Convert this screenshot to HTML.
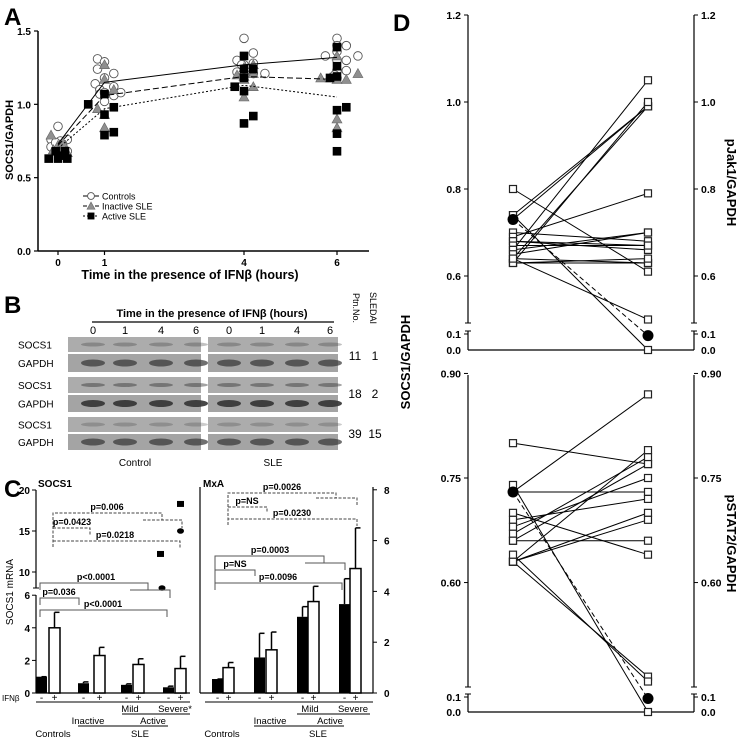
<!DOCTYPE html>
<html><head><meta charset="utf-8"><style>
html,body{margin:0;padding:0;background:#fff}
svg{display:block;font-family:"Liberation Sans",Arial,sans-serif}
</style></head><body>
<svg id="fig" width="746" height="739" viewBox="0 0 746 739" xmlns="http://www.w3.org/2000/svg">
<g id="gA"></g>
<g id="gB"></g>
<g id="gC"></g>
<g id="gD"></g>
</svg>
<script>
// ---------- Panel A data ----------
const aTimes=[0,1,4,6];
const aCtrlMean=[0.73,1.15,1.27,1.32];
const aInacMean=[0.72,1.06,1.19,1.17];
const aActMean=[0.70,0.97,1.13,1.05];
const aCtrlT=[-0.15,-0.15,0,0.05,0.2,0.2,0.1,-0.05,0.8,0.85,0.85,0.9,0.9,1,1,1,1,1.2,1.2,1.2,1.35,3.85,3.85,4,4,4,4.2,4.2,4.2,4.45,3.95,5.75,6,6,6,6,6,6,6.2,6.2,6.2,6.45,5.95];
const aCtrlV=[0.76,0.71,0.85,0.75,0.76,0.68,0.73,0.74,1.14,1.31,1.24,1.10,1.07,1.29,1.18,1.02,1.08,1.21,1.06,1.12,1.08,1.30,1.22,1.45,1.27,1.20,1.35,1.28,1.21,1.21,1.27,1.33,1.45,1.40,1.36,1.30,1.23,1.18,1.40,1.30,1.23,1.33,1.20];
const aInacT=[-0.15,-0.1,0,0.1,0.2,0.05,0.85,1,1,1,1,1.2,4,4,4,4,4.2,4.2,4.2,3.85,5.65,5.85,6,6,6,6,6.2,6.45];
const aInacV=[0.79,0.69,0.72,0.74,0.67,0.67,0.97,1.27,1.17,0.93,0.84,1.10,1.25,1.19,1.17,1.05,1.27,1.21,1.12,1.20,1.18,1.18,1.33,1.17,0.90,0.84,1.17,1.21];
const aActT=[-0.2,0,0.05,0.15,0.2,-0.05,0.65,1,1,1,1.2,1.2,3.8,4,4,4,4,4,4.2,4.2,6,6,6,6,6,6,6.2,5.85];
const aActV=[0.63,0.63,0.65,0.68,0.63,0.68,1.0,1.07,0.93,0.79,0.98,0.81,1.12,1.33,1.24,1.18,1.09,0.87,1.24,0.92,1.39,1.26,1.19,0.96,0.80,0.68,0.98,1.18];
const aYTicks=[0,0.5,1.0,1.5];
const aYTickLabels=["0.0","0.5","1.0","1.5"];
// ---------- Panel C data ----------
const cGroups=["Controls","Inactive","Mild","Severe"];
const cSocsMinus=[1.0,0.6,0.5,0.35];
const cSocsMinusErr=[1.0,0.68,0.56,0.42];
const cSocsPlus=[4.0,2.3,1.75,1.5];
const cSocsPlusErr=[4.95,2.8,2.1,2.25];
const cMxaMinus=[0.55,1.4,3.0,3.5];
const cMxaMinusErr=[0.55,2.35,3.4,4.5];
const cMxaPlus=[1.0,1.7,3.6,4.9];
const cMxaPlusErr=[1.2,2.4,4.2,6.5];
const cSocsTicksLow=[0,2,4,6];
const cSocsTicksHigh=[10,15,20];
const cMxaTicks=[0,2,4,6,8];
const cOutliers=[[3,18.3,'sq'],[3,15,'ci'],[2.6,12.2,'sq']];
// ---------- Panel D data ----------
const dJakLeft=[0.80,0.74,0.73,0.70,0.69,0.68,0.68,0.67,0.66,0.66,0.65,0.64,0.64,0.63,0.63,0.63,0.64,0.74];
const dJakRight=[0.61,0.99,0.99,0.68,0.79,0.67,0.66,0.67,0.70,1.05,0.70,0.99,0.63,1.00,0.63,0.64,0.50,0.0];
const dJakMean=[0.73,0.09];
const dJakTicks=[0.6,0.8,1.0,1.2];
const dJakTickLabels=["0.6","0.8","1.0","1.2"];
const dStatLeft=[0.80,0.73,0.73,0.70,0.69,0.68,0.67,0.66,0.66,0.63,0.63,0.63,0.63,0.64,0.74];
const dStatRight=[0.77,0.87,0.73,0.64,0.72,0.75,0.78,0.66,0.77,0.79,0.70,0.69,0.465,0.458,0.0];
const dStatMean=[0.73,0.09];
const dStatTicks=[0.60,0.75,0.90];
const dStatTickLabels=["0.60","0.75","0.90"];

const NS="http://www.w3.org/2000/svg";
function mk(par,tag,at,txt){const e=document.createElementNS(NS,tag);for(const k in at)e.setAttribute(k,at[k]);if(txt!==undefined)e.textContent=txt;par.appendChild(e);return e;}
function ln(p,x1,y1,x2,y2,w,dash){const e=mk(p,'line',{x1,y1,x2,y2,stroke:'#000','stroke-width':w||1});if(dash)e.setAttribute('stroke-dasharray',dash);return e;}
function tx(p,x,y,s,size,anchor,bold){const e=mk(p,'text',{x,y,'font-size':size,'text-anchor':anchor||'middle'},s);if(bold)e.setAttribute('font-weight','bold');return e;}

// ================= Panel A =================
(function(){
const g=document.getElementById('gA');
const X=t=>58+t*46.5, Y=v=>251-v*(220/1.5);
let e=tx(g,4,25,'A',24,'start',true);

e=ln(g,38,Y(1.5),38,251,1.5);

e=ln(g,38,251,369,251,1.5);

aYTicks.forEach((v,i)=>{ln(g,34,Y(v),38,Y(v),1.2);
 const t=tx(g,31,Y(v)+4,aYTickLabels[i],10,'end',true);
 });
aTimes.forEach(t=>{ln(g,X(t),251,X(t),255,1.2);
 const l=tx(g,X(t),266,String(t),10,'middle',true);
 });
e=tx(g,190,279,'Time in the presence of IFNβ (hours)',12.5,'middle',true);

e=tx(g,0,0,'SOCS1/GAPDH',11,'middle',true);e.setAttribute('transform','translate(13,140) rotate(-90)');

function meanLine(arr,dash,name){const pts=aTimes.map((t,i)=>X(t)+','+Y(arr[i])).join(' ');
 const p=mk(g,'polyline',{points:pts,fill:'none',stroke:'#000','stroke-width':1});if(dash)p.setAttribute('stroke-dasharray',dash);
 }
function marker(par,kind,cx,cy,s){s=s||1;let m;
 if(kind==='ci')m=mk(par,'circle',{cx,cy,r:4.3*s,fill:'#fff',stroke:'#555','stroke-width':0.9});
 else if(kind==='tr')m=mk(par,'polygon',{points:`${cx},${cy-5*s} ${cx-5*s},${cy+4*s} ${cx+5*s},${cy+4*s}`,fill:'#8f8f8f',stroke:'#666','stroke-width':0.6});
 else m=mk(par,'rect',{x:cx-4.3*s,y:cy-4.3*s,width:8.6*s,height:8.6*s,fill:'#000'});
 return m;}
aCtrlT.forEach((t,i)=>{const m=marker(g,'ci',X(t),Y(aCtrlV[i]));});
aInacT.forEach((t,i)=>{const m=marker(g,'tr',X(t),Y(aInacV[i]));});
aActT.forEach((t,i)=>{const m=marker(g,'sq',X(t),Y(aActV[i]));});
meanLine(aCtrlMean,null,'controls-mean-line');
meanLine(aInacMean,'6,3','inactive-sle-mean-line');
meanLine(aActMean,'2,2','active-sle-mean-line');
const leg=mk(g,'g',{});
[['ci','Controls',null],['tr','Inactive SLE','4,2'],['sq','Active SLE','2,2']].forEach((r,i)=>{
 const y=196+i*10;const en=mk(leg,'g',{});
 
 ln(en,83,y,99,y,1,r[2]);marker(en,r[0],91,y,0.8);
 tx(en,102,y+3.5,r[1],9,'start');});
})();

// ================= Panel B =================
(function(){
const g=document.getElementById('gB');
let e=tx(g,4,313,'B',24,'start',true);
e=tx(g,212,317,'Time in the presence of IFNβ (hours)',11,'middle',true);
ln(g,92,322,334,322,1.2);
const lanes=[93,125,161,196,229,262,297,330],ln8=["0","1","4","6","0","1","4","6"];
lanes.forEach((x,i)=>{const t=tx(g,x,334,ln8[i],11);});
const rows=[[337,352,'SOCS1',0.3],[354,372,'GAPDH',0.7],[377,393,'SOCS1',0.45],[395,412,'GAPDH',0.9],[417,432,'SOCS1',0.25],[434,450,'GAPDH',0.7]];
rows.forEach(r=>{[[68,201],[208,338]].forEach((p,pi)=>{
 const s=mk(g,'rect',{x:p[0],y:r[0],width:p[1]-p[0],height:r[1]-r[0],fill:r[2]==='SOCS1'?'#acacac':'#a4a4a4'});
 
 for(let k=0;k<4;k++){const cx=lanes[pi*4+k];mk(g,'ellipse',{cx,cy:(r[0]+r[1])/2,rx:12,ry:r[2]==='SOCS1'?2:3.5,fill:'#333','fill-opacity':r[3]});}
});
 const l=tx(g,18,(r[0]+r[1])/2+4,r[2],10,'start');});
[['11','1',360],['18','2',398],['39','15',438]].forEach(p=>{tx(g,355,p[2],p[0],12,'middle');tx(g,375,p[2],p[1],12,'middle');});
e=tx(g,0,0,'Ptn.No.',9,'middle');e.setAttribute('transform','translate(353,308) rotate(90)');
e=tx(g,0,0,'SLEDAI',9,'middle');e.setAttribute('transform','translate(370,308) rotate(90)');
e=tx(g,135,466,'Control',10);
e=tx(g,273,466,'SLE',10);
})();

// ================= Panel C =================
(function(){
const g=document.getElementById('gC');
let e=tx(g,4,497,'C',24,'start',true);
const Y0=693;
const YS=v=>v<=6?Y0-v*16.3:572-(v-10)*8.2;
const YM=v=>Y0-v*25.4;
const sX=[[36,49],[78,94],[121,133],[163,175]], mX=[[212,223],[254,266],[297,308],[339,350]];
const W=11;
ln(g,36,490,36,588,1.2);ln(g,36,595,36,Y0,1.2);ln(g,33,588,39,588,1);
ln(g,36,Y0,190,Y0,1.2);
cSocsTicksLow.concat(cSocsTicksHigh).forEach(v=>{ln(g,32,YS(v),36,YS(v),1);
 const t=tx(g,30,YS(v)+4,String(v),10,'end',true);});
e=tx(g,38,487,'SOCS1',10,'start',true);
e=tx(g,0,0,'SOCS1 mRNA',10,'middle');e.setAttribute('transform','translate(13,592) rotate(-90)');
ln(g,200,487,200,Y0,1.2);ln(g,200,Y0,373,Y0,1.2);ln(g,373,487,373,Y0,1.2);
cMxaTicks.forEach(v=>{ln(g,373,YM(v),377,YM(v),1);});
e=tx(g,203,487,'MxA',10,'start',true);
cMxaTicks.forEach(v=>{const t=tx(g,384,YM(v)+4,String(v),10,'start',true);});
function bars(xs,minus,minusE,plus,plusE,Yf,nm){
 xs.forEach((p,i)=>{
  let b=mk(g,'rect',{x:p[0],y:Yf(minus[i]),width:W,height:Y0-Yf(minus[i]),fill:'#000'});
  
  ln(g,p[0]+W/2,Yf(minus[i]),p[0]+W/2,Yf(minusE[i]),1.5);ln(g,p[0]+W/2,Yf(minusE[i]),p[0]+W/2+5,Yf(minusE[i]),1.5);
  b=mk(g,'rect',{x:p[1],y:Yf(plus[i]),width:W,height:Y0-Yf(plus[i]),fill:'#fff',stroke:'#000','stroke-width':1.5});
  
  ln(g,p[1]+W/2,Yf(plus[i]),p[1]+W/2,Yf(plusE[i]),1.5);ln(g,p[1]+W/2,Yf(plusE[i]),p[1]+W/2+5,Yf(plusE[i]),1.5);
  tx(g,p[0]+W/2,701,'-',10);tx(g,p[1]+W/2,701,'+',10);
 });}
bars(sX,cSocsMinus,cSocsMinusErr,cSocsPlus,cSocsPlusErr,YS,'socs1');
bars(mX,cMxaMinus,cMxaMinusErr,cMxaPlus,cMxaPlusErr,YM,'mxa');
cOutliers.forEach(o=>{const x=sX[3][1]+W/2-(o[0]<3?20:0),y=YS(o[1]);
 const m=o[2]==='sq'?mk(g,'rect',{x:x-3.5,y:y-3,width:7,height:6,fill:'#000'}):mk(g,'ellipse',{cx:x,cy:y,rx:3.5,ry:2.8,fill:'#000'});
 });
mk(g,'ellipse',{cx:162,cy:588,rx:3.5,ry:2.8,fill:'#000'});
e=tx(g,2,701,'IFNβ',8,'start');
function br(x1,x2,y,d1,d2,dash,label,lx){
 const p=mk(g,'path',{d:`M${x1},${y+d1}V${y}H${x2}V${y+d2}`,fill:'none',stroke:dash?'#444':'#555','stroke-width':1});
 if(dash)p.setAttribute('stroke-dasharray','3,1.5');
 
 if(label){const t=tx(g,lx,y-3,label,9,'middle',true);}}
br(53,162,513,34,7,true,'p=0.006',107);br(143,182,520,0,8,true,null);
br(53,90,528,0,7,true,'p=0.0423',72);
br(53,180,541,0,7,true,'p=0.0218',115);
br(40,148,583,7,7,false,'p<0.0001',96);br(130,170,590,0,8,false,null);
br(40,79,598,7,7,false,'p=0.036',59);
br(40,167,610,7,7,false,'p<0.0001',103);
br(228,336,493,32,5,true,'p=0.0026',282);br(316,357,498,0,7,true,null);
br(228,267,507,0,6,true,'p=NS',247);
br(228,357,519,6,7,true,'p=0.0230',292);
br(215,324,556,30,7,false,'p=0.0003',270);br(305,345,563,0,7,false,null);
br(215,255,570,0,6,false,'p=NS',235);
br(215,342,583,7,7,false,'p=0.0096',278);
ln(g,36,702,190,702,1);ln(g,205,702,373,702,1);
ln(g,122,714,190,714,1);ln(g,78,726,168,726,1);
ln(g,297,714,370,714,1);ln(g,254,726,344,726,1);
[[130,712,'Mild'],[175,712,'Severe*'],[88,724,'Inactive'],[153,724,'Active'],[53,737,'Controls'],[140,737,'SLE'],
 [310,712,'Mild'],[353,712,'Severe'],[270,724,'Inactive'],[330,724,'Active'],[222,737,'Controls'],[318,737,'SLE']].forEach(l=>{
 const t=tx(g,l[0],l[1],l[2],9.5);});
})();

// ================= Panel D =================
(function(){
const g=document.getElementById('gD');
let e=tx(g,393,31,'D',24,'start',true);
const XL=468,XR=694,P1=513,P2=648;
function panel(vAt,vTop,yTop,pxPerUnit,breakY,lowY1,lowY0,ticks,labels,left,right,mean,title,nm){
 const Y=v=>v<=0.1?lowY0-(lowY0-lowY1)*v/0.1:vAt-(v-vTop)*pxPerUnit;
 [XL,XR].forEach((x,si)=>{ln(g,x,yTop,x,breakY,1.2);ln(g,x,lowY1-3,x,lowY0,1.2);
  ln(g,x-3,breakY,x+3,breakY,1);ln(g,x-3,lowY1-3,x+3,lowY1-3,1);
  const d=si?1:-1;
  ticks.forEach((v,i)=>{ln(g,x,Y(v),x+4*d,Y(v),1);
   const t=tx(g,x+7*d,Y(v)+4,labels[i],10.5,si?'start':'end',true);});
  ln(g,x,lowY1,x+4*d,lowY1,1);tx(g,x+7*d,lowY1+4,'0.1',10.5,si?'start':'end',true);
  tx(g,x+7*d,lowY0+4,'0.0',10.5,si?'start':'end',true);});
 const xa=ln(g,XL,lowY0,XR,lowY0,1.2);
 left.forEach((v,i)=>{const l=ln(g,P1,Y(v),P2,Y(right[i]),1);});
 const ml=ln(g,P1,Y(mean[0]),P2,Y(mean[1]),1,'5,3');
 left.forEach((v,i)=>{[[P1,v],[P2,right[i]]].forEach(p=>{
  const s=mk(g,'rect',{x:p[0]-3.5,y:Y(p[1])-3.5,width:7,height:7,fill:'#fff',stroke:'#222','stroke-width':1.2});
  });});
 [[P1,mean[0]],[P2,mean[1]]].forEach(p=>{const c=mk(g,'circle',{cx:p[0],cy:Y(p[1]),r:5.5,fill:'#000'});
  });
 const t=tx(g,0,0,title,13,'middle',true);t.setAttribute('transform',`translate(727,${(yTop+lowY0)/2}) rotate(90)`);
 
}
panel(102,1.0,15,435,323,334,350,dJakTicks,dJakTickLabels,dJakLeft,dJakRight,dJakMean,'pJak1/GAPDH','pjak1');
panel(478,0.75,375,697,687,697,712,dStatTicks,dStatTickLabels,dStatLeft,dStatRight,dStatMean,'pSTAT2/GAPDH','pstat2');
e=tx(g,0,0,'SOCS1/GAPDH',13,'middle',true);e.setAttribute('transform','translate(410,362) rotate(-90)');

})();
</script>
</body></html>
